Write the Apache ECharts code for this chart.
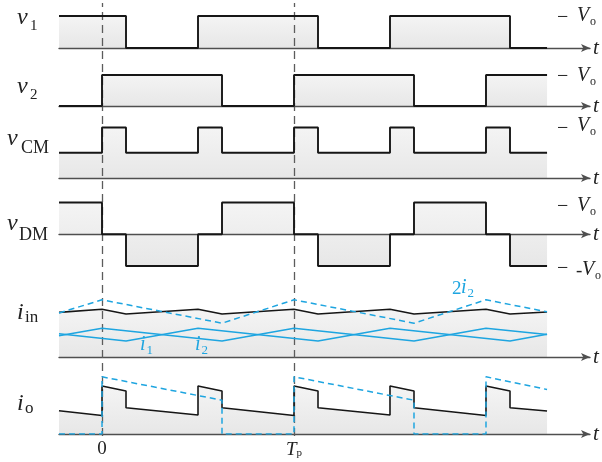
<!DOCTYPE html>
<html>
<head>
<meta charset="utf-8">
<script src="https://cdn.jsdelivr.net/npm/echarts@6/dist/echarts.min.js"></script>
<style>
  html, body { margin: 0; padding: 0; background: #fff; }
  #c { width: 602px; height: 462px; }
</style>
</head>
<body>
<div id="c"></div>
<script>
// Interleaved two-phase converter waveforms; time is given in units of the period Tp.
// Voltages are in units of Vo, currents in arbitrary units.

const v1 = [[-0.224, 1], [0.125, 1], [0.125, 0], [0.5, 0], [0.5, 1], [1.125, 1], [1.125, 0],
            [1.5, 0], [1.5, 1], [2.125, 1], [2.125, 0], [2.318, 0]];

const v2 = [[-0.224, 0], [0, 0], [0, 1], [0.625, 1], [0.625, 0], [1, 0], [1, 1], [1.625, 1],
            [1.625, 0], [2, 0], [2, 1], [2.318, 1]];

const vCM = [[-0.224, 0.5], [0, 0.5], [0, 1], [0.125, 1], [0.125, 0.5], [0.5, 0.5], [0.5, 1],
             [0.625, 1], [0.625, 0.5], [1, 0.5], [1, 1], [1.125, 1], [1.125, 0.5], [1.5, 0.5],
             [1.5, 1], [1.625, 1], [1.625, 0.5], [2, 0.5], [2, 1], [2.125, 1], [2.125, 0.5],
             [2.318, 0.5]];

const vDM = [[-0.224, 1], [0, 1], [0, 0], [0.125, 0], [0.125, -1], [0.5, -1], [0.5, 0],
             [0.625, 0], [0.625, 1], [1, 1], [1, 0], [1.125, 0], [1.125, -1], [1.5, -1],
             [1.5, 0], [1.625, 0], [1.625, 1], [2, 1], [2, 0], [2.125, 0], [2.125, -1],
             [2.318, -1]];

const i1 = [[-0.224, 2.33], [0.125, 1.6], [0.5, 2.88], [1.125, 1.6], [1.5, 2.88],
            [2.125, 1.6], [2.318, 2.27]];

const i2 = [[-0.224, 2.12], [0, 2.88], [0.625, 1.6], [1, 2.88], [1.625, 1.6], [2, 2.88],
            [2.318, 2.24]];

const iIn = [[-0.224, 4.46], [0, 4.77], [0.125, 4.3], [0.5, 4.77], [0.625, 4.3], [1, 4.77],
             [1.125, 4.3], [1.5, 4.77], [1.625, 4.3], [2, 4.77], [2.125, 4.3], [2.318, 4.5]];

const twoI2 = [[-0.224, 4.4], [0, 5.72], [0.625, 3.38], [1, 5.72], [1.625, 3.38], [2, 5.72],
               [2.318, 4.52]];

const iOut = [[-0.224, 2.33], [0, 1.85], [0, 4.8], [0.125, 4.3], [0.125, 2.63], [0.5, 1.9],
              [0.5, 4.8], [0.625, 4.3], [0.625, 2.63], [1, 1.85], [1, 4.8], [1.125, 4.3],
              [1.125, 2.63], [1.5, 1.9], [1.5, 4.8], [1.625, 4.3], [1.625, 2.63], [2, 1.85],
              [2, 4.8], [2.125, 4.3], [2.125, 2.63], [2.318, 2.3]];

const iOut2 = [[-0.224, 0], [0, 0], [0, 5.72], [0.625, 3.38], [0.625, 0], [1, 0], [1, 5.72],
               [1.625, 3.38], [1.625, 0], [2, 0], [2, 5.72], [2.318, 4.45]];

const periodMarks = [0, 1];
const periodLabels = [['0', ''], ['T', 'p']];
const rowLabels = [['v', '1'], ['v', '2'], ['v', 'CM'], ['v', 'DM'], ['i', 'in'], ['i', 'o']];
const levelLabels = [['V', 'o'], ['V', 'o'], ['V', 'o'], ['V', 'o'], ['-V', 'o']];
const currentLabels = [['', 'i', '1'], ['', 'i', '2'], ['2', 'i', '2']];

const BLACK = '#161616';
const BLUE = '#1ea5e0';
const AXIS = '#4f4f4f';
const SERIF = '"Liberation Serif", "DejaVu Serif", serif';
const T0 = -0.224, T1 = 2.5417;

const fillGrad = {
  type: 'linear', x: 0, y: 0, x2: 0, y2: 1,
  colorStops: [{ offset: 0, color: '#f4f4f4' }, { offset: 1, color: '#e7e7e7' }]
};

const panels = [
  { data: v1,   top: 12.8,  height: 35.2, min: 0,    max: 1.1 },
  { data: v2,   top: 71.9,  height: 34.1, min: 0,    max: 1.1 },
  { data: vCM,  top: 122.45, height: 55.55, min: 0,  max: 1.1 },
  { data: vDM,  top: 199.4, height: 69.7, min: -1.1, max: 1.1 },
  { data: iIn,  top: 297,   height: 60,   min: 0,    max: 6 },
  { data: iOut, top: 374,   height: 60,   min: 0,    max: 6 }
];

const grid = [], xAxis = [], yAxis = [], series = [];

panels.forEach((p, k) => {
  grid.push({ left: 59, width: 531, top: p.top, height: p.height });
  const ax = {
    gridIndex: k, type: 'value', min: T0, max: T1, z: 2,
    axisLine: {
      show: true, onZero: true, symbol: ['none', 'arrow'], symbolSize: [6, 9],
      lineStyle: { color: AXIS, width: 1.4 }
    },
    axisTick: { show: false },
    axisLabel: { show: false },
    splitLine: { show: false },
    name: 't', nameLocation: 'end', nameGap: 3,
    nameTextStyle: { fontFamily: SERIF, fontStyle: 'italic', fontSize: 21, color: '#222' }
  };
  if (k === panels.length - 1) {
    ax.axisLabel = {
      show: true, customValues: periodMarks, margin: 5,
      formatter: (v) => {
        const lab = periodLabels[periodMarks.indexOf(v)];
        if (!lab) return '';
        const main = /\d/.test(lab[0]) ? '{n|' + lab[0] + '}' : '{m|' + lab[0] + '}';
        return main + (lab[1] ? '{s|' + lab[1] + '}' : '');
      },
      rich: {
        n: { fontFamily: SERIF, fontSize: 19, color: '#222', lineHeight: 20, verticalAlign: 'bottom' },
        m: { fontFamily: SERIF, fontStyle: 'italic', fontSize: 19, color: '#222', lineHeight: 20, verticalAlign: 'bottom' },
        s: { fontFamily: SERIF, fontSize: 11, color: '#222', lineHeight: 13, verticalAlign: 'bottom' }
      }
    };
  }
  xAxis.push(ax);
  yAxis.push({ gridIndex: k, type: 'value', min: p.min, max: p.max, show: false });

  // light fill between the waveform and its time axis
  series.push({
    type: 'line', xAxisIndex: k, yAxisIndex: k, data: p.data, symbol: 'none',
    lineStyle: { width: 0, opacity: 0 }, areaStyle: { color: fillGrad, opacity: 1 },
    z: 1, silent: true
  });
});

// black waveforms
panels.forEach((p, k) => {
  series.push({
    type: 'line', xAxisIndex: k, yAxisIndex: k, data: p.data, symbol: 'none',
    lineStyle: { color: BLACK, width: k >= 4 ? 1.6 : 1.9 }, z: 6, silent: true
  });
});

// phase currents and the doubled phase-2 current
const blueLine = (data, k, dashed) => ({
  type: 'line', xAxisIndex: k, yAxisIndex: k, data, symbol: 'none',
  lineStyle: { color: BLUE, width: 1.5, type: dashed ? [6, 4] : 'solid' },
  z: dashed ? 7 : 5, silent: true
});
series.push(blueLine(i1, 4, false));
series.push(blueLine(i2, 4, false));
series.push(blueLine(twoI2, 4, true));
series.push(blueLine(iOut2, 5, true));

// full-height overlay carrying the period markers
grid.push({ left: 59, width: 531, top: 3, height: 433 });
xAxis.push({ gridIndex: 6, type: 'value', min: T0, max: T1, show: false });
yAxis.push({ gridIndex: 6, type: 'value', min: 0, max: 1, show: false });
series.push({
  type: 'line', xAxisIndex: 6, yAxisIndex: 6, data: [], z: 3, silent: true,
  markLine: {
    z: 3, silent: true, symbol: ['none', 'none'], label: { show: false },
    lineStyle: { color: '#5c5c5c', width: 1.3, type: [8, 5] },
    data: periodMarks.map(v => ({ xAxis: v }))
  }
});

// text helpers
function txt(x, base, str, size, italic, color) {
  return {
    type: 'text', x: x, y: base - 0.34 * size, z: 20, silent: true,
    style: {
      text: str, fill: color || '#222', textAlign: 'left', verticalAlign: 'middle',
      font: (italic ? 'italic ' : '') + size + 'px ' + SERIF
    }
  };
}

const graphic = [];
const rowPos = [
  { x: 17, b: 26, sx: 30, sb: 31, sz: 15 },
  { x: 17, b: 95, sx: 30, sb: 100, sz: 15 },
  { x: 7, b: 147, sx: 21, sb: 154, sz: 18 },
  { x: 7, b: 232, sx: 19, sb: 241, sz: 18 },
  { x: 17, b: 321, sx: 25, sb: 323, sz: 17 },
  { x: 17, b: 412, sx: 25, sb: 414, sz: 17 }
];
rowLabels.forEach((l, k) => {
  const p = rowPos[k];
  graphic.push(txt(p.x, p.b, l[0], 24, true));
  graphic.push(txt(p.sx, p.sb, l[1], p.sz, false));
});

const levelPos = [
  { d: 16, b: 23 }, { d: 75, b: 83 }, { d: 127, b: 133 }, { d: 205, b: 213 }, { d: 267, b: 277 }
];
levelLabels.forEach((l, k) => {
  const p = levelPos[k];
  graphic.push(txt(557, p.d + 0.34 * 20 + 2, '\u2212', 20, false));
  let x = 577;
  if (l[0].startsWith('-')) {
    graphic.push(txt(576, p.b, '-', 19, false));
    x = 582;
  }
  graphic.push(txt(x, p.b, l[0].replace('-', ''), 20, true));
  graphic.push(txt(x + 13, p.b + 3, l[1], 12, false));
});

const curPos = [
  { x: 140, b: 352 }, { x: 195, b: 352 }, { x: 452, b: 295 }
];
currentLabels.forEach((l, k) => {
  const p = curPos[k];
  let x = p.x;
  if (l[0]) { graphic.push(txt(x, p.b, l[0], 19, false, BLUE)); x += 9; }
  graphic.push(txt(x, p.b, l[1], 20, true, BLUE));
  graphic.push(txt(x + 6.5, p.b + 3, l[2], 13, false, BLUE));
});

const chart = echarts.init(document.getElementById('c'), null, { renderer: 'canvas' });
chart.setOption({
  animation: false,
  backgroundColor: '#ffffff',
  grid, xAxis, yAxis, series, graphic
});
</script>
</body>
</html>
